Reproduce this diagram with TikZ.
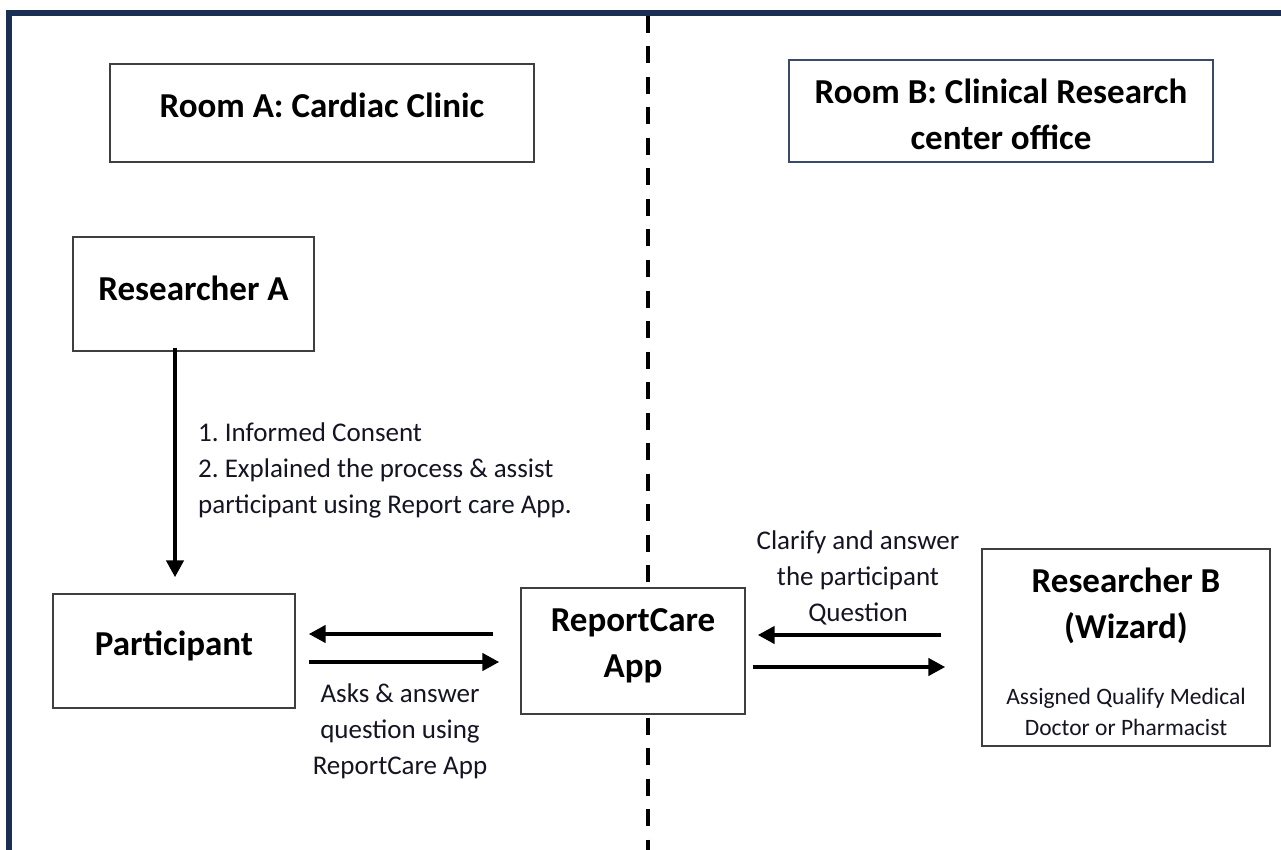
\documentclass[tikz,border=0pt]{standalone}
\usepackage{fontspec}
\setmainfont{Carlito}
\usetikzlibrary{arrows.meta}
\definecolor{navy}{HTML}{1B2F55}
\definecolor{boxgray}{HTML}{3F3F3F}
\definecolor{boxblue}{HTML}{3A4A6B}
\definecolor{txt}{HTML}{141423}
\frenchspacing
\begin{document}
\begin{tikzpicture}[x=1pt,y=-1pt,
  box/.style={draw=boxgray, line width=1.4pt, fill=white, inner sep=0pt},
  big/.style={font=\fontsize{35}{46}\selectfont\bfseries, align=center, text=black, inner sep=0pt},
  reg/.style={font=\fontsize{27}{36}\selectfont, text=txt, inner sep=0pt},
  sml/.style={font=\fontsize{23.5}{31}\selectfont, align=center, text=txt, inner sep=0pt},
  arr/.style={line width=4.5pt, -{Triangle[length=17pt,width=17pt]}}]
\useasboundingbox (0,0) rectangle (1281,850);
% outer frame
\draw[navy, line width=6pt, line join=miter] (9.3,860) -- (9.3,13) -- (1290,13);
% dashed divider
\coordinate (dtop) at (648,16);
\coordinate (dbot) at (648,852);
\draw[line width=4pt, dash pattern=on 17pt off 13.5pt] (dtop) -- (dbot);
% boxes
\node[box, minimum width=424pt, minimum height=98pt] (roomA) at (322,113) {};
\node[box, draw=boxblue, minimum width=424pt, minimum height=102pt] (roomB) at (1001,111) {};
\node[box, minimum width=241pt, minimum height=114pt] (resA) at (193.5,294) {};
\node[box, minimum width=242pt, minimum height=114pt] (part) at (174,651) {};
\node[box, minimum width=224pt, minimum height=126pt] (app) at (633,651) {};
\node[box, minimum width=288pt, minimum height=197pt] (resB) at (1126,647.5) {};
% box texts
\node[big] (roomAt) at (322,105) {Room A: Cardiac Clinic};
\node[big] (roomBt) at (1001,114.5) {Room B: Clinical Research\\center office};
\node[big] (resAt) at (193.5,288) {Researcher A};
\node[big] (partt) at (174,646) {Participant};
\node[big] (appt) at (633,646) {ReportCare\\App};
\node[big] (resBt) at (1126,606) {Researcher B\\(Wizard)};
\node[sml] (resBs) at (1126,711.5) {Assigned Qualify Medical\\Doctor or Pharmacist};
% connectors
\coordinate (aTop) at ([xshift=-18.5pt,yshift=4pt]resA.south);
\draw[arr, shorten >=16pt] (aTop) -- (aTop |- part.north);
\node[reg, anchor=west, align=left] (consent) at (198,470) {1. Informed Consent\\2. Explained the process \& assist\\participant using Report care App.};
\coordinate (pa1) at (0,634);
\coordinate (pa2) at (0,662);
\draw[arr, shorten <=27pt, shorten >=13pt] (app.west |- pa1) -- (part.east |- pa1);
\draw[arr, shorten <=13pt, shorten >=21pt] (part.east |- pa2) -- (app.west |- pa2);
\node[reg, align=center] (asks) at (400,731.3) {Asks \& answer\\question using\\ReportCare App};
\coordinate (pb1) at (0,635);
\coordinate (pb2) at (0,667);
\draw[arr, shorten <=40pt, shorten >=12pt] (resB.west |- pb1) -- (app.east |- pb1);
\draw[arr, shorten <=7pt, shorten >=36pt] (app.east |- pb2) -- (resB.west |- pb2);
\node[reg, align=center] (clarify) at (858,577.7) {Clarify and answer\\the participant\\Question};
\end{tikzpicture}
\end{document}
